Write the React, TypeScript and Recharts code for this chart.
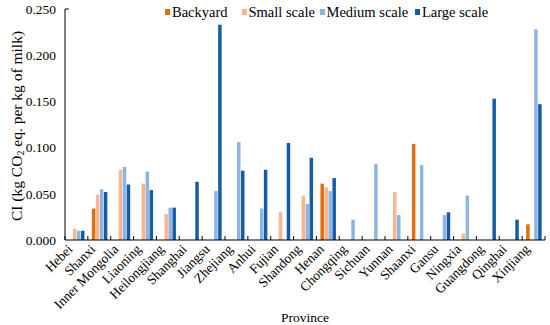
import React from 'react';
import { BarChart, Bar, XAxis, YAxis, Legend, Label } from 'recharts';

const provinces = [
  'Hebei', 'Shanxi', 'Inner Mongolia', 'Liaoning', 'Heilongjiang', 'Shanghai', 'Jiangsu',
  'Zhejiang', 'Anhui', 'Fujian', 'Shandong', 'Henan', 'Chongqing', 'Sichuan', 'Yunnan',
  'Shaanxi', 'Gansu', 'Ningxia', 'Guangdong', 'Qinghai', 'Xinjiang',
];

const backyard = [null, 0.034, null, null, null, null, null, null, null, null, null, 0.061, null, null, null, 0.104, null, null, null, null, 0.017];
const smallScale = [0.012, 0.049, 0.076, 0.061, 0.028, null, null, null, null, 0.030, 0.048, 0.057, null, null, 0.052, null, null, 0.007, null, null, null];
const mediumScale = [0.010, 0.055, 0.079, 0.074, 0.035, null, 0.053, 0.106, 0.034, null, 0.039, 0.053, 0.022, 0.082, 0.027, 0.081, 0.027, 0.048, null, null, 0.228];
const largeScale = [0.010, 0.052, 0.060, 0.054, 0.035, 0.063, 0.233, 0.075, 0.076, 0.105, 0.089, 0.067, null, null, null, null, 0.030, null, 0.153, 0.022, 0.147];

const yTicks = [0, 0.05, 0.1, 0.15, 0.2, 0.25];

const seriesKeys = ['backyard', 'small', 'medium', 'large'];
const seriesNames = ['Backyard', 'Small scale', 'Medium scale', 'Large scale'];
const seriesColors = ['#E46C0A', '#FAB58C', '#8EB4E3', '#165BA5'];

const data = provinces.map((p, i) => ({
  province: p,
  backyard: backyard[i],
  small: smallScale[i],
  medium: mediumScale[i],
  large: largeScale[i],
}));

const FONT = 'Liberation Serif';
const W = 550;
const H = 325;
const PLOT_LEFT = 65;
const PLOT_RIGHT = 5;
const BAND = (W - PLOT_LEFT - PLOT_RIGHT) / provinces.length;

function ProvinceTick(props: any) {
  const { x, y, payload, index } = props;
  const left = x - BAND / 2;
  const ax = x - 3;
  const ay = y + 10;
  return (
    <g>
      <line x1={left} y1={y} x2={left} y2={y - 4} stroke="#000" />
      {index === provinces.length - 1 && (
        <line x1={x + BAND / 2} y1={y} x2={x + BAND / 2} y2={y - 4} stroke="#000" />
      )}
      <text
        x={ax}
        y={ay}
        transform={`rotate(-45, ${ax}, ${ay})`}
        textAnchor="end"
        style={{ fontFamily: FONT }}
        fontSize={13.5}
        fill="#000"
      >
        {payload.value}
      </text>
    </g>
  );
}

function ValueTick(props: any) {
  const { x, y, payload } = props;
  return (
    <g>
      {payload.value === 0.25 && (
        <line x1={PLOT_LEFT} y1={y} x2={PLOT_LEFT + 4} y2={y} stroke="#000" />
      )}
      <text x={x} y={y} dy="0.35em" textAnchor="end" style={{ fontFamily: FONT }} fontSize={13.5} fill="#000">
        {Number(payload.value).toFixed(3)}
      </text>
    </g>
  );
}

function YTitle() {
  const cx = 16;
  const cy = 126;
  return (
    <text
      x={cx}
      y={cy}
      transform={`rotate(-90, ${cx}, ${cy})`}
      textAnchor="middle"
      dominantBaseline="central"
      style={{ fontFamily: FONT }}
      fontSize={15.5}
      fill="#000"
    >
      CI (kg CO
      <tspan fontSize={10} dy={4}>2</tspan>
      <tspan dy={-4}> eq. per kg of milk)</tspan>
    </text>
  );
}

const legendLefts = [165, 241.5, 319.5, 415];

function renderLegend() {
  return (
    <div style={{ position: 'relative', width: W, height: 20, fontFamily: FONT, fontSize: 14.5, color: '#000' }}>
      {seriesNames.map((n, i) => (
        <div
          key={n}
          style={{ position: 'absolute', left: legendLefts[i], top: 0, display: 'flex', alignItems: 'center', whiteSpace: 'nowrap', lineHeight: '20px' }}
        >
          <span style={{ display: 'inline-block', width: 5, height: 6, background: seriesColors[i], marginRight: 2 }} />
          {n}
        </div>
      ))}
    </div>
  );
}

export default function App() {
  return (
    <div style={{ position: 'absolute', left: 0, top: 0, width: W, height: H, background: '#fff', fontFamily: FONT }}>
      <BarChart
        width={W}
        height={H}
        data={data}
        margin={{ top: 9, right: PLOT_RIGHT, bottom: 0, left: 0 }}
        barSize={3.5}
        barGap={0.5}
        style={{ fontFamily: FONT }}
      >
        <XAxis
          dataKey="province"
          interval={0}
          height={85}
          tickSize={0}
          tickMargin={0}
          tickLine={false}
          axisLine={{ stroke: '#000' }}
          tick={<ProvinceTick />}
        >
          <Label value="Province" position="insideBottom" offset={3} style={{ fontFamily: FONT }} fontSize={13.5} fill="#000" />
        </XAxis>
        <YAxis
          domain={[0, 0.25]}
          ticks={yTicks}
          width={PLOT_LEFT}
          tickSize={0}
          tickMargin={9}
          tickLine={false}
          axisLine={{ stroke: '#000' }}
          tick={<ValueTick />}
        >
          <Label content={<YTitle />} />
        </YAxis>
        <Legend
          layout="horizontal"
          verticalAlign="middle"
          align="center"
          content={renderLegend}
          wrapperStyle={{ top: 2, left: 0, width: W }}
        />
        {seriesKeys.map((k, i) => (
          <Bar key={k} dataKey={k} name={seriesNames[i]} fill={seriesColors[i]} isAnimationActive={false} />
        ))}
      </BarChart>
    </div>
  );
}
